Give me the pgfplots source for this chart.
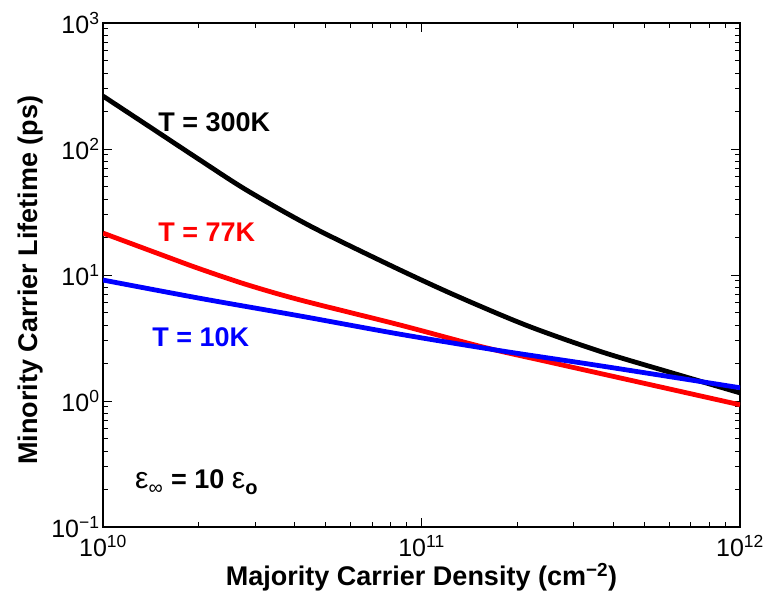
\documentclass[border=0pt]{standalone}
\usepackage{pgfplots}
\pgfplotsset{compat=1.18}
\usepackage{fontspec}
\setmainfont{Liberation Sans}
\usetikzlibrary{calc}
\begin{document}
\begin{tikzpicture}
\begin{axis}[
  scale only axis, width=637bp, height=504bp,
  xmode=log, ymode=log,
  xmin=1e10, xmax=1e12, ymin=1e-1, ymax=1e3,
  xtick={1e10,1e11,1e12},
  xticklabels={10\textsuperscript{10},10\textsuperscript{11},10\textsuperscript{12}},
  ytick={1e-1,1e0,1e1,1e2,1e3},
  yticklabels={10\textsuperscript{−1},10\textsuperscript{0},10\textsuperscript{1},10\textsuperscript{2},10\textsuperscript{3}},
  tick align=inside,
  major tick length=9bp, minor tick length=5bp,
  every tick/.style={black, line width=1bp},
  axis line style={line width=1.6bp},
  tick label style={font=\fontsize{25bp}{27bp}\selectfont},
  xticklabel style={yshift=-5bp},
  label style={font=\fontsize{27bp}{30bp}\selectfont\bfseries},
  xlabel={Majority Carrier Density (cm\textsuperscript{−2})},
  ylabel={Minority Carrier Lifetime (ps)},
  xlabel style={at={(axis description cs:0.5,-0.099)}, anchor=center},
  ylabel style={at={(axis description cs:-0.1146,0.49)}, anchor=center},
  every axis plot/.append style={line width=4.8bp, smooth, tension=0.5},
]
\addplot[black] coordinates {
 (1e10,263) (1.413e10,147.9) (1.995e10,83.2) (2.818e10,47.3) (4.467e10,24.5)
 (7.943e10,12.0) (1.259e11,7.0) (2.138e11,3.98) (3.631e11,2.48) (6.026e11,1.69) (1e12,1.16)};
\addplot[red] coordinates {
 (1e10,21.5) (1.585e10,13.96) (2.017e10,11.17) (2.818e10,8.41) (4.155e10,6.34)
 (8.561e10,4.01) (1.560e11,2.68) (2.512e11,2.04) (5.012e11,1.38) (1e12,0.933)};
\addplot[blue] coordinates {
 (1e10,9.12) (2.017e10,6.53) (4.155e10,4.73) (8.561e10,3.39)
 (1.762e11,2.51) (3.631e11,1.905) (1e12,1.274)};
\node[anchor=west, text=black, font=\fontsize{27bp}{30bp}\selectfont\bfseries, inner sep=0pt] at (axis cs:1.49e10,163.7) {T = 300K};
\node[anchor=west, text=red, font=\fontsize{27bp}{30bp}\selectfont\bfseries, inner sep=0pt] at (axis cs:1.49e10,21.9) {T = 77K};
\node[anchor=west, text=blue, font=\fontsize{27bp}{30bp}\selectfont\bfseries, inner sep=0pt] at (axis cs:1.426e10,3.22) {T = 10K};
\node[anchor=west, font=\fontsize{27bp}{30bp}\selectfont, inner sep=0pt] at (axis cs:1.26e10,0.227) {\fontsize{30bp}{30bp}\selectfont ε\raisebox{-6bp}{\fontsize{20bp}{20bp}\selectfont ∞} \fontsize{27bp}{30bp}\selectfont\textbf{= 10} \fontsize{30bp}{30bp}\selectfont ε\raisebox{-6bp}{\fontsize{20bp}{20bp}\selectfont\bfseries o}};
\coordinate (sw) at (rel axis cs:0,0);
\coordinate (ne) at (rel axis cs:1,1);
\end{axis}
\pgfresetboundingbox
\path ($(sw)+(-103bp,-71bp)$) rectangle ($(ne)+(28bp,23bp)$);
\end{tikzpicture}
\end{document}
